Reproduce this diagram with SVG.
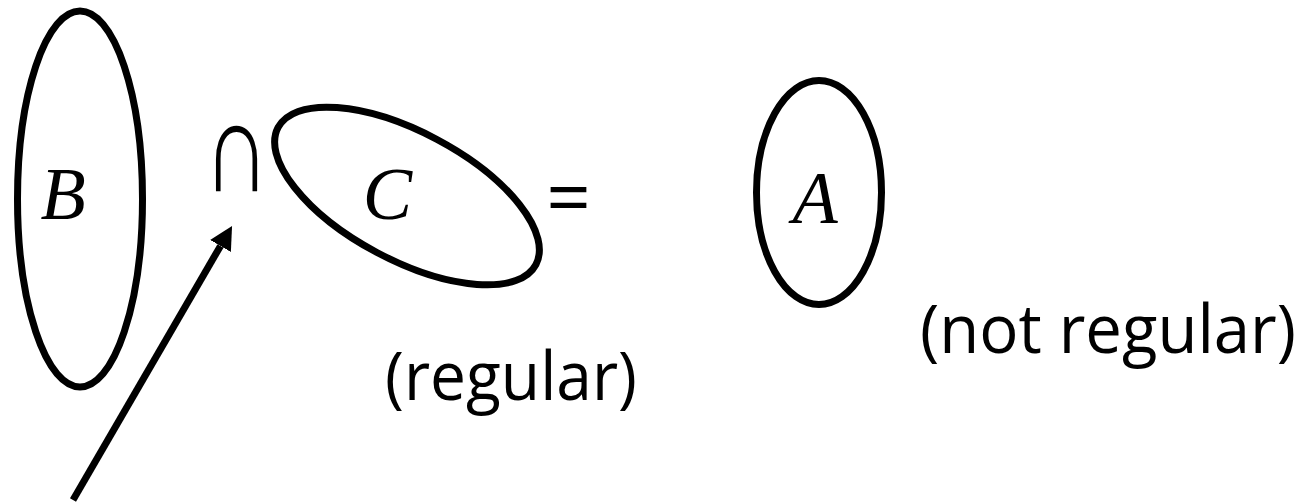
<svg xmlns="http://www.w3.org/2000/svg" width="1306" height="503" viewBox="0 0 1306 503">
<style>
.set{fill:none;stroke:#000;stroke-width:7}
.var{font-family:"Liberation Serif",serif;font-style:italic;font-size:74px;fill:#000;text-anchor:middle}
.lbl{font-family:"Open Sans","Liberation Sans",sans-serif;font-size:67px;fill:#000}
.op{font-family:"Open Sans","Liberation Sans",sans-serif;font-size:78px;fill:#000;text-anchor:middle}
.sym{font-family:"DejaVu Sans",sans-serif;font-weight:200;font-size:92px;fill:#000;text-anchor:middle}
.conn{stroke:#000;stroke-width:7;fill:none}
</style>
<defs>
<marker id="head" markerUnits="userSpaceOnUse" markerWidth="23" markerHeight="24" viewBox="0 0 23 24" refX="0" refY="12" orient="auto">
<path d="M0,0 L23,12 L0,24 z" fill="#000"/>
</marker>
</defs>
<rect width="1306" height="503" fill="#fff"/>
<g id="node-B">
<ellipse class="set" cx="80" cy="199" rx="62.5" ry="188"/>
<text class="var" x="63" y="219">B</text>
</g>
<g id="op-intersect">
<text class="sym" transform="translate(236.5 191) scale(1 1.41)" x="0" y="0">∩</text>
</g>
<g id="node-C">
<ellipse class="set" cx="407" cy="196" rx="146" ry="64" transform="rotate(28 407 196)"/>
<text class="var" x="387.5" y="219">C</text>
<text class="lbl" x="385" y="400" textLength="252" lengthAdjust="spacingAndGlyphs">(regular)</text>
</g>
<g id="op-equals">
<text class="op" x="568.5" y="225">=</text>
</g>
<g id="node-A">
<ellipse class="set" cx="819" cy="192.5" rx="62.5" ry="112"/>
<text class="var" x="815" y="223">A</text>
<text class="lbl" x="920" y="353" textLength="376" lengthAdjust="spacingAndGlyphs">(not regular)</text>
</g>
<g id="connectors">
<line class="conn" x1="73" y1="500" x2="220.5" y2="245.9" marker-end="url(#head)"/>
</g>
</svg>
